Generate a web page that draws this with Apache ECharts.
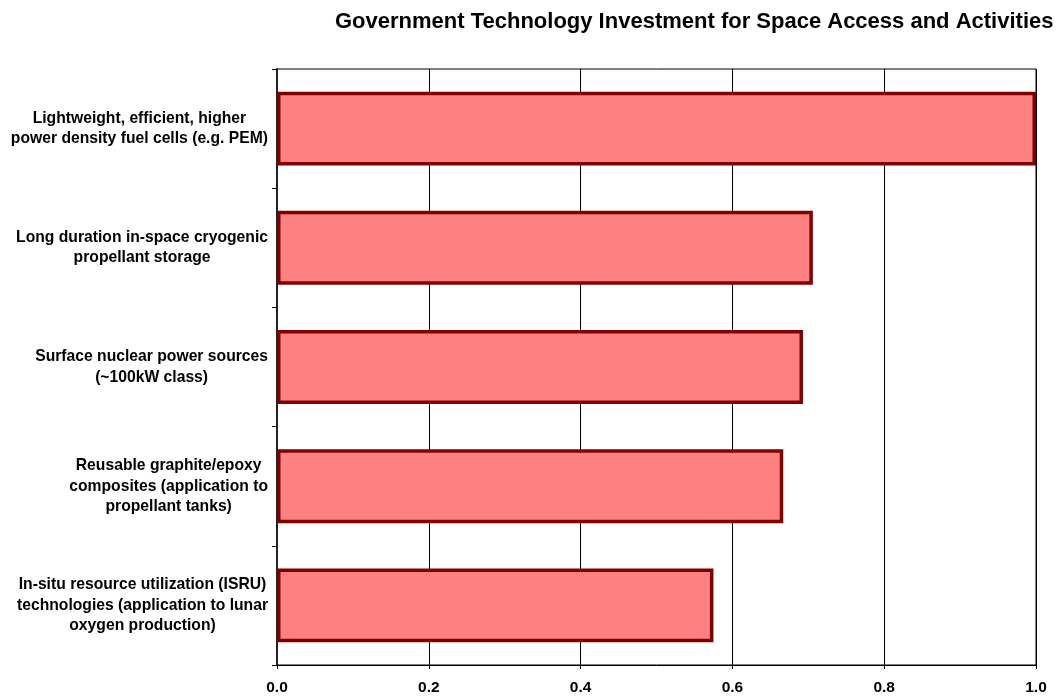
<!DOCTYPE html>
<html>
<head>
<meta charset="utf-8">
<script src="https://cdn.jsdelivr.net/npm/echarts@6/dist/echarts.min.js"></script>
<style>
  html, body { margin: 0; padding: 0; background: #fff; }
  #chart { width: 1058px; height: 696px; }
</style>
</head>
<body>
<div id="chart"></div>
<script>
// Technology areas, listed top to bottom
const categories = [
  'Lightweight, efficient, higher\npower density fuel cells (e.g. PEM)',
  'Long duration in-space cryogenic\npropellant storage',
  'Surface nuclear power sources\n(~100kW class)',
  'Reusable graphite/epoxy\ncomposites (application to\npropellant tanks)',
  'In-situ resource utilization (ISRU)\ntechnologies (application to lunar\noxygen production)'
];
// Relative investment score per area
const scores = [1.0, 0.706, 0.693, 0.667, 0.575];
// Value axis ticks
const xTicks = [0.0, 0.2, 0.4, 0.6, 0.8, 1.0];

const FONT = '"Liberation Sans", Arial, sans-serif';

const chart = echarts.init(document.getElementById('chart'), null, { renderer: 'canvas' });

chart.setOption({
  backgroundColor: '#ffffff',
  animation: false,
  title: {
    text: 'Government Technology Investment for Space Access and Activities',
    left: 335,
    top: 11,
    padding: 0,
    textStyle: { fontFamily: FONT, fontSize: 22, fontWeight: 'bold', color: '#000' }
  },
  grid: {
    left: 277,
    right: 22,
    top: 69,
    bottom: 31,
    containLabel: false,
    outerBoundsMode: 'none',
    show: true,
    borderColor: '#000',
    borderWidth: 1,
    backgroundColor: 'transparent'
  },
  xAxis: {
    type: 'value',
    min: xTicks[0],
    max: xTicks[xTicks.length - 1],
    interval: 0.2,
    axisLine: { show: true, lineStyle: { color: '#000', width: 1 } },
    axisTick: { show: true, length: 4, lineStyle: { color: '#000' } },
    splitLine: { show: true, lineStyle: { color: '#000', width: 1 } },
    axisLabel: {
      margin: 15,
      fontFamily: FONT,
      fontSize: 15.5,
      fontWeight: 'bold',
      color: '#000',
      formatter: v => v.toFixed(1)
    }
  },
  yAxis: {
    type: 'category',
    inverse: true,
    data: categories,
    axisLine: { show: true, lineStyle: { color: '#222', width: 2 } },
    axisTick: { show: true, length: 5, lineStyle: { color: '#000' } },
    axisLabel: {
      margin: 9,
      formatter: value => value.split('\n').map(s => '{c|' + s + '}').join('\n'),
      rich: {
        c: {
          align: 'center',
          fontFamily: FONT,
          fontSize: 15.7,
          fontWeight: 'bold',
          lineHeight: 20.5,
          color: '#000'
        }
      }
    }
  },
  series: [{
    type: 'bar',
    data: scores,
    barCategoryGap: '38%',
    clip: false,
    itemStyle: {
      color: '#FF8080',
      borderColor: '#800000',
      borderWidth: 3.5
    }
  }]
});
</script>
</body>
</html>
